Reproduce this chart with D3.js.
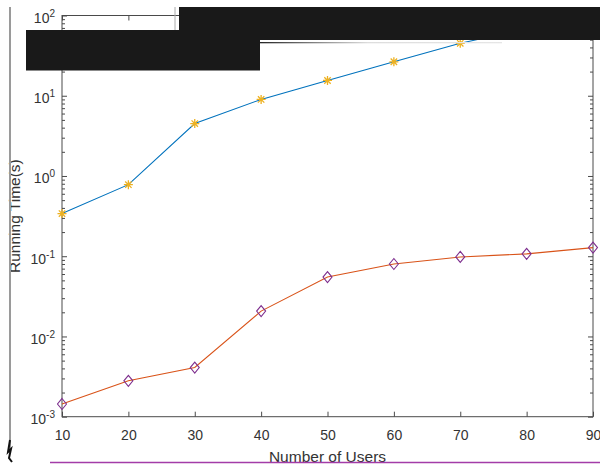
<!DOCTYPE html>
<html>
<head>
<meta charset="utf-8">
<script src="https://cdn.jsdelivr.net/npm/d3@7"></script>
<style>
  body { margin: 0; background: #fff; }
  svg { display: block; font-family: "Liberation Sans", Arial, sans-serif; }
  .axis path, .axis line { stroke: #4a4a4a; }
  .axis text { fill: #333; }
</style>
</head>
<body>
<svg id="mainSvg" width="600" height="466"></svg>
<script>
// data
var users = [10, 20, 30, 40, 50, 60, 70, 80, 90];
var timeA = [0.34, 0.78, 4.5, 9.0, 15.5, 26.5, 45, 68, 98];          // blue line, yellow stars
var timeB = [0.00144, 0.0028, 0.0041, 0.0207, 0.055, 0.080, 0.098, 0.107, 0.128]; // red line, purple diamonds
var xTicks = [10, 20, 30, 40, 50, 60, 70, 80, 90];
var yMajor = [1e-3, 1e-2, 1e-1, 1e0, 1e1, 1e2];
var yExp = ["-3", "-2", "-1", "0", "1", "2"];

// plot box (note: "top" is a reserved window property, so use other names)
var pLeft = 62, pRight = 593, pTop = 15.5, pBottom = 416.7;

var svg = d3.select("#mainSvg");

var x = d3.scaleLinear().domain([10, 90]).range([pLeft, pRight]);
var y = d3.scaleLog().domain([1e-3, 1e2]).range([pBottom, pTop]);

// all log ticks (2..9 in each decade plus majors)
var yAll = [];
yMajor.forEach(function(m, i) {
  yAll.push(m);
  if (i < yMajor.length - 1) {
    for (var k = 2; k <= 9; k++) yAll.push(m * k);
  }
});
function isMajor(v) {
  var l = Math.log10(v);
  return Math.abs(l - Math.round(l)) < 1e-9;
}

// frame
svg.append("rect")
  .attr("x", pLeft).attr("y", pTop)
  .attr("width", pRight - pLeft).attr("height", pBottom - pTop)
  .attr("fill", "none").attr("stroke", "#4a4a4a").attr("stroke-width", 1);

// bottom axis, ticks pointing in
var gx = svg.append("g").attr("class", "axis")
  .attr("transform", "translate(0," + pBottom + ")")
  .call(d3.axisBottom(x).tickValues(xTicks).tickSize(-5).tickPadding(13));
gx.select(".domain").remove();
gx.selectAll("text").style("font-size", "14px");

// top axis ticks
var gxt = svg.append("g").attr("class", "axis")
  .attr("transform", "translate(0," + pTop + ")")
  .call(d3.axisTop(x).tickValues(xTicks).tickSize(-5).tickFormat(""));
gxt.select(".domain").remove();

// left axis
var gy = svg.append("g").attr("class", "axis")
  .attr("transform", "translate(" + pLeft + ",0)")
  .call(d3.axisLeft(y).tickValues(yAll).tickSize(-5).tickPadding(7).tickFormat(""));
gy.select(".domain").remove();
gy.selectAll(".tick line").attr("x2", function(d) { return isMajor(d) ? 5 : 3; });
gy.selectAll(".tick").filter(function(d) { return isMajor(d); })
  .select("text")
  .each(function(d) {
    var t = d3.select(this).attr("dy", null);
    var i = yMajor.findIndex(function(m) { return Math.abs(m - d) / m < 1e-6; });
    t.attr("y", 7);
    t.append("tspan").style("font-size", "14px").text("10");
    t.append("tspan").style("font-size", "10px").attr("dy", -6).text(yExp[i]);
  });

// right axis ticks
var gyr = svg.append("g").attr("class", "axis")
  .attr("transform", "translate(" + pRight + ",0)")
  .call(d3.axisRight(y).tickValues(yAll).tickSize(-5).tickFormat(""));
gyr.select(".domain").remove();
gyr.selectAll(".tick line").attr("x2", function(d) { return isMajor(d) ? -5 : -3; });

// axis titles
svg.append("text")
  .attr("x", (pLeft + pRight) / 2).attr("y", 462)
  .attr("text-anchor", "middle")
  .style("font-size", "15.5px").style("fill", "#333")
  .text("Number of Users");

svg.append("text")
  .attr("transform", "translate(20," + ((pTop + pBottom) / 2) + ") rotate(-90)")
  .attr("text-anchor", "middle")
  .style("font-size", "15.5px").style("fill", "#333")
  .text("Running Time(s)");

// lines
svg.append("clipPath").attr("id", "clip")
  .append("rect").attr("x", pLeft - 6).attr("y", pTop)
  .attr("width", pRight - pLeft + 12).attr("height", pBottom - pTop + 6);
var plot = svg.append("g").attr("clip-path", "url(#clip)");

var line = d3.line().x(function(d, i) { return x(users[i]); }).y(function(d) { return y(d); });

plot.append("path").attr("d", line(timeA))
  .attr("fill", "none").attr("stroke", "#0072BD").attr("stroke-width", 1.1);
plot.append("path").attr("d", line(timeB))
  .attr("fill", "none").attr("stroke", "#D95319").attr("stroke-width", 1.1);

// star markers
var star = "M-4.5,0L4.5,0M0,-4.5L0,4.5M-3.2,-3.2L3.2,3.2M-3.2,3.2L3.2,-3.2";
plot.selectAll(".starMark")
  .data(timeA)
  .enter()
  .append("path")
  .attr("class", "starMark")
  .attr("transform", function(d, i) { return "translate(" + x(users[i]) + "," + y(d) + ")"; })
  .attr("d", star)
  .attr("stroke", "#EDB120").attr("stroke-width", 1.3).attr("fill", "none");

// diamond markers
plot.selectAll(".diaMark")
  .data(timeB)
  .enter()
  .append("path")
  .attr("class", "diaMark")
  .attr("transform", function(d, i) { return "translate(" + x(users[i]) + "," + y(d) + ")"; })
  .attr("d", "M0,-5.5L4.5,0L0,5.5L-4.5,0Z")
  .attr("stroke", "#7E2F8E").attr("stroke-width", 1.1).attr("fill", "none");

// stray marks of the picture
var grad = svg.append("defs").append("linearGradient").attr("id", "fade");
grad.append("stop").attr("offset", "0%").attr("stop-color", "#222");
grad.append("stop").attr("offset", "45%").attr("stop-color", "#ddd");
grad.append("stop").attr("offset", "100%").attr("stop-color", "#e6e6e6");
svg.append("rect").attr("x", 258).attr("y", 42).attr("width", 244).attr("height", 1.3).attr("fill", "url(#fade)");

svg.append("line").attr("x1", 10).attr("x2", 10).attr("y1", 7).attr("y2", 450)
  .attr("stroke", "#9a9a9a").attr("stroke-width", 2);
svg.append("path").attr("d", "M10,440L8,452L11,449L9,458L12,462")
  .attr("fill", "none").attr("stroke", "#111").attr("stroke-width", 2);
svg.append("line").attr("x1", 175).attr("x2", 175).attr("y1", 7).attr("y2", 30)
  .attr("stroke", "#aaa").attr("stroke-width", 1);
svg.append("line").attr("x1", 50).attr("x2", 600).attr("y1", 462.5).attr("y2", 462.5)
  .attr("stroke", "#A33CA8").attr("stroke-width", 1.3);

// black boxes
svg.append("rect").attr("x", 179).attr("y", 7).attr("width", 421).attr("height", 33).attr("fill", "#191919");
svg.append("rect").attr("x", 26).attr("y", 30).attr("width", 234).attr("height", 40.5).attr("fill", "#191919");
</script>
</body>
</html>
